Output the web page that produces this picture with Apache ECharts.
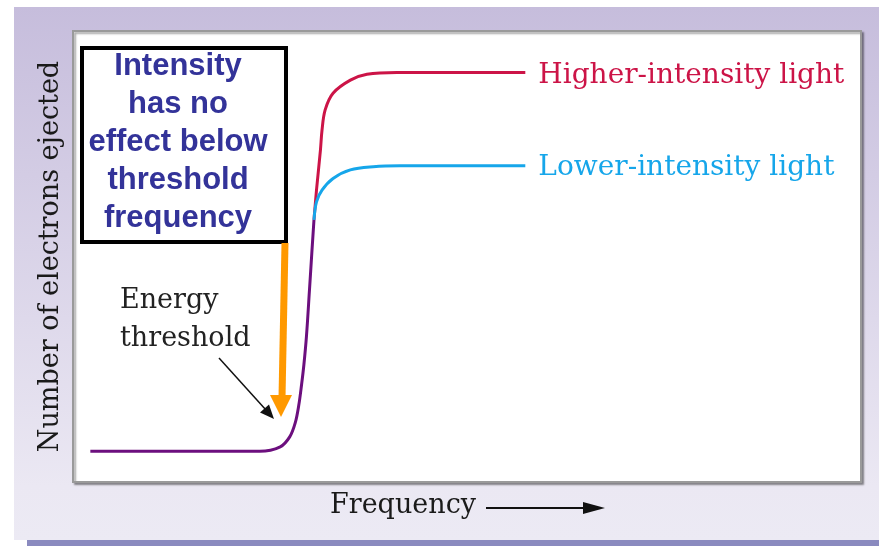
<!DOCTYPE html>
<html>
<head>
<meta charset="utf-8">
<title>Photoelectric effect</title>
<script src="https://cdn.jsdelivr.net/npm/echarts@6/dist/echarts.min.js"></script>
<style>
  html, body { margin: 0; padding: 0; background: #fff; }
  #chart { width: 879px; height: 546px; }
</style>
</head>
<body>
<div id="chart"></div>
<script>
  // frequency / electrons, both on a 0-100 scale
  var belowThreshold = [
    [2.2, 6.8], [23.7, 6.8], [26.3, 7.8], [27.5, 10.0], [28.2, 13.1],
    [28.65, 17.0], [29.0, 21.5], [29.3, 26.0], [29.63, 32.4], [30.01, 42.6],
    [30.33, 51.4], [30.58, 58.1]
  ];
  var higherIntensity = [
    [30.58, 58.1], [30.9, 64.7], [31.4, 73.6], [31.6, 78.0], [32.0, 82.5],
    [33.0, 86.2], [35.2, 89.1], [37.3, 90.4], [41.1, 90.8], [57.4, 90.8]
  ];
  var lowerIntensity = [
    [30.58, 58.1], [30.9, 62.1], [31.6, 64.7], [33.0, 67.3], [35.2, 69.2],
    [38.1, 69.9], [41.5, 70.1], [57.4, 70.1]
  ];
  var seriesNames = ['Below threshold', 'Higher-intensity light', 'Lower-intensity light'];
  var boxLines = ['Intensity', 'has no', 'effect below', 'threshold', 'frequency'];

  var serif = 'DejaVu Serif';

  var myChart = echarts.init(document.getElementById('chart'));

  var option = {
    animation: false,
    grid: {
      show: true,
      left: 73, right: 18, top: 31, bottom: 64,
      backgroundColor: '#fff',
      borderColor: '#9a9a9a',
      borderWidth: 2,
      shadowColor: 'rgba(0,0,0,0.35)',
      shadowBlur: 2,
      shadowOffsetX: 2,
      shadowOffsetY: 2
    },
    xAxis: {
      type: 'value', min: 0, max: 100,
      axisLine: { show: false }, axisTick: { show: false },
      axisLabel: { show: false }, splitLine: { show: false }
    },
    yAxis: {
      type: 'value', min: 0, max: 100,
      name: 'Number of electrons ejected',
      nameLocation: 'middle',
      nameRotate: 90,
      nameGap: 9,
      nameTextStyle: { fontFamily: serif, fontSize: 27, color: '#1a1a1a' },
      axisLine: { show: false }, axisTick: { show: false },
      axisLabel: { show: false }, splitLine: { show: false }
    },
    series: [
      {
        name: seriesNames[0],
        type: 'line',
        data: belowThreshold,
        smooth: 0.35,
        symbol: 'none',
        lineStyle: { color: '#6c0f7e', width: 3 }
      },
      {
        name: seriesNames[1],
        type: 'line',
        data: higherIntensity,
        smooth: 0.35,
        symbol: 'none',
        lineStyle: { color: '#cc1447', width: 3 },
        endLabel: {
          show: true,
          formatter: '{a}',
          distance: 13,
          offset: [0, 3],
          color: '#cc1447',
          fontFamily: serif,
          fontSize: 28
        }
      },
      {
        name: seriesNames[2],
        type: 'line',
        data: lowerIntensity,
        smooth: 0.35,
        symbol: 'none',
        lineStyle: { color: '#16a6ea', width: 3 },
        endLabel: {
          show: true,
          formatter: '{a}',
          distance: 13,
          offset: [0, 2],
          color: '#16a6ea',
          fontFamily: serif,
          fontSize: 28
        }
      }
    ],
    graphic: [
      // lavender panel behind the chart
      {
        type: 'rect', z: -10, silent: true,
        shape: { x: 14, y: 7, width: 865, height: 533 },
        style: {
          fill: new echarts.graphic.LinearGradient(0, 0, 0, 1, [
            { offset: 0, color: '#c6bddc' },
            { offset: 0.9, color: '#ebe8f3' },
            { offset: 1, color: '#eceaf4' }
          ])
        }
      },
      {
        type: 'rect', z: -10, silent: true,
        shape: { x: 27, y: 540, width: 852, height: 6 },
        style: { fill: '#8a8abf' }
      },
      // boxed note
      {
        type: 'rect', z: 10,
        shape: { x: 82, y: 48, width: 204, height: 194 },
        style: { fill: '#fff', stroke: '#000', lineWidth: 4 }
      },
      {
        type: 'text', z: 11,
        x: 178, y: 142,
        style: {
          text: boxLines.join('\n'),
          fill: '#333399',
          font: 'bold 31px "Liberation Sans", Arial, sans-serif',
          lineHeight: 38,
          align: 'center',
          verticalAlign: 'middle'
        }
      },
      // orange arrow
      {
        type: 'line', z: 10,
        shape: { x1: 285, y1: 243, x2: 282, y2: 398 },
        style: { stroke: '#ff9900', lineWidth: 7 }
      },
      {
        type: 'polygon', z: 10,
        shape: { points: [[270, 395], [292, 395], [281, 417]] },
        style: { fill: '#ff9900' }
      },
      // energy threshold note and pointer
      {
        type: 'text', z: 10,
        x: 120, y: 320,
        style: {
          text: 'Energy\nthreshold',
          fill: '#222',
          font: '27px "DejaVu Serif", serif',
          lineHeight: 38,
          align: 'left',
          verticalAlign: 'middle'
        }
      },
      {
        type: 'line', z: 10,
        shape: { x1: 219, y1: 358, x2: 266, y2: 410 },
        style: { stroke: '#111', lineWidth: 1.5 }
      },
      {
        type: 'polygon', z: 10,
        shape: { points: [[274, 419], [260, 412.6], [269, 404.6]] },
        style: { fill: '#111' }
      },
      // x axis title with arrow
      {
        type: 'text', z: 10,
        x: 330, y: 506,
        style: {
          text: 'Frequency',
          fill: '#1a1a1a',
          font: '27px "DejaVu Serif", serif',
          align: 'left',
          verticalAlign: 'middle'
        }
      },
      {
        type: 'line', z: 10,
        shape: { x1: 486, y1: 508, x2: 590, y2: 508 },
        style: { stroke: '#111', lineWidth: 2 }
      },
      {
        type: 'polygon', z: 10,
        shape: { points: [[583, 502], [605, 508], [583, 514]] },
        style: { fill: '#111' }
      }
    ]
  };

  myChart.setOption(option);
</script>
</body>
</html>
